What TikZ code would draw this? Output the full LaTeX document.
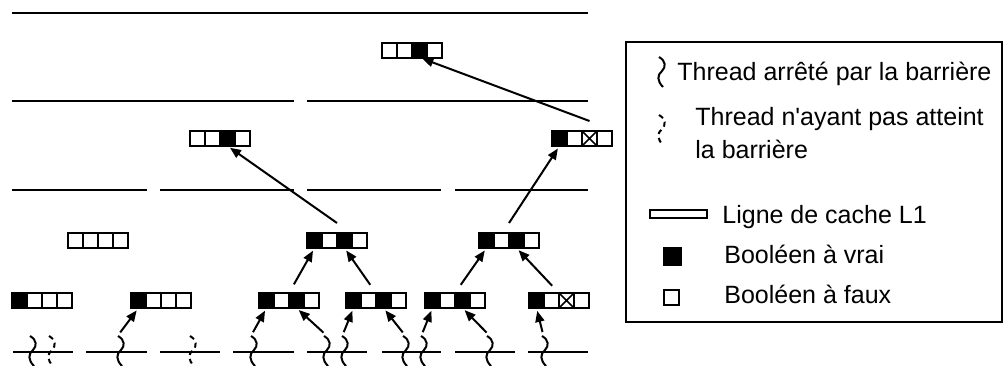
\documentclass[tikz,border=0pt]{standalone}
\usepackage{fontspec}
\setmainfont{Liberation Sans}[Ligatures=TeXOff]
\usetikzlibrary{positioning,arrows.meta}

\tikzset{
  cell/.style={draw, line width=1pt, minimum size=7.5pt, inner sep=0pt, outer sep=0pt},
  faux/.style={cell},
  vrai/.style={cell, fill=black},
  croix/.style={cell, path picture={\draw[line width=0.75pt] (path picture bounding box.south west) -- (path picture bounding box.north east) (path picture bounding box.north west) -- (path picture bounding box.south east);}},
  ligne/.style={line width=1.2pt},
  fil/.style={line width=1pt},
  filpas/.style={fil, dash pattern=on 2.5pt off 2pt},
  arc/.style={-{Triangle[length=5.5pt,width=4.5pt]}, line width=1pt, shorten >=1.5pt},
  lab/.style={inner sep=0pt, anchor=base west, font=\fontsize{12.5pt}{16pt}\selectfont},
}
\newcommand{\cachebox}[7]{%
  \node[#4] (#1-1) at (#2,#3) {};
  \node[#5, right=0pt of #1-1] (#1-2) {};
  \node[#6, right=0pt of #1-2] (#1-3) {};
  \node[#7, right=0pt of #1-3] (#1-4) {};
}
\newcommand{\thread}[4]{%
  \draw[#4] (#2-3,#3) .. controls (#2+4,#3+4) and (#2+4,#3+10) .. (#2,#3+14)
    .. controls (#2-5,#3+18) and (#2-5,#3+24) .. (#2+1,#3+30);
  \coordinate (#1) at (#2-2,#3-2);
}

\begin{document}
\begin{tikzpicture}[x=0.5pt, y=-0.5pt]
  \useasboundingbox (0,0) rectangle (1006,365);
  % Cache lines
  \draw[ligne] (12,13) -- (588,13);
  \draw[ligne] (12,101) -- (294,101) (307,101) -- (588,101);
  \draw[ligne] (12,190) -- (147,190) (160,190) -- (294,190) (307,190) -- (441,190) (455,190) -- (588,190);
  \draw[ligne] (13,352) -- (73,352) (86,352) -- (147,352) (160,352) -- (220,352) (233,352) -- (294,352)
    (307,352) -- (367,352) (382,352) -- (441,352) (455,352) -- (515,352) (528,352) -- (588,352);

  % Define nodes
  \cachebox{h4}{389.5}{50}{faux}{faux}{vrai}{faux}
  \cachebox{h3a}{197.5}{138.5}{faux}{faux}{vrai}{faux}
  \cachebox{h3b}{559.5}{138.5}{vrai}{faux}{croix}{faux}
  \cachebox{h2a}{75.5}{240.5}{faux}{faux}{faux}{faux}
  \cachebox{h2b}{314.5}{240.5}{vrai}{faux}{vrai}{faux}
  \cachebox{h2c}{486.5}{240.5}{vrai}{faux}{vrai}{faux}
  \cachebox{h1a}{19.5}{300.5}{vrai}{faux}{faux}{faux}
  \cachebox{h1b}{138.5}{300.5}{vrai}{faux}{faux}{faux}
  \cachebox{h1c}{266.5}{300.5}{vrai}{faux}{vrai}{faux}
  \cachebox{h1d}{353.5}{300.5}{vrai}{faux}{vrai}{faux}
  \cachebox{h1e}{432.5}{300.5}{vrai}{faux}{vrai}{faux}
  \cachebox{h1f}{536.5}{300.5}{vrai}{faux}{croix}{faux}

  % Threads
  \thread{t1}{33}{336}{fil}
  \thread{t2}{52}{336}{filpas}
  \thread{t3}{121}{336}{fil}
  \thread{t4}{193}{336}{filpas}
  \thread{t5}{254}{336}{fil}
  \thread{t6}{327}{336}{fil}
  \thread{t7}{345}{336}{fil}
  \thread{t8}{406}{336}{fil}
  \thread{t9}{424}{336}{fil}
  \thread{t10}{490}{336}{fil}
  \thread{t11}{545}{336}{fil}

  % Connect the nodes
  \draw[arc, shorten <=1pt] (t3) -- (h1b-1.south);
  \draw[arc, shorten <=1pt] (t5) -- (h1c-1.south);
  \draw[arc, shorten <=1pt] (t6) -- (h1c-3.south);
  \draw[arc, shorten <=1pt] (t7) -- (h1d-1.south);
  \draw[arc, shorten <=1pt] (t8) -- (h1d-3.south);
  \draw[arc, shorten <=1pt] (t9) -- (h1e-1.south);
  \draw[arc, shorten <=1pt] (t10) -- (h1e-3.south);
  \draw[arc, shorten <=1pt] (t11) -- (h1f-1.south);
  \draw[arc, shorten <=5pt] (h1c-2.north east) -- (h2b-1.south);
  \draw[arc, shorten <=5pt] (h1d-2.north east) -- (h2b-3.south);
  \draw[arc, shorten <=5pt] (h1e-2.north east) -- (h2c-1.south);
  \draw[arc, shorten <=5pt] (h1f-2.north east) -- (h2c-3.south);
  \draw[arc] ([yshift=5pt]h2b-2.north east) -- (h3a-3.south);
  \draw[arc] ([yshift=5pt]h2c-2.north east) -- (h3b-1.south);
  \draw[arc] ([yshift=5pt]h3b-3.north) -- (h4-3.south);

  % Legend
  \draw[line width=1pt] (626,42) rectangle (1002,322);
  \thread{lg1}{662}{57}{fil}
  \thread{lg2}{662}{115}{filpas}
  \node[draw, line width=1pt, minimum width=28.5pt, minimum height=4pt, inner sep=0pt] (lgligne) at (678.5,214) {};
  \node[vrai, minimum size=8.5pt] (lgvrai) at (672,256) {};
  \node[faux] (lgfaux) at (671.5,297) {};
  \node[lab] (lt1) at (677,80) {Thread arrêté par la barrière};
  \node[lab] (lt2) at (695,125) {Thread n'ayant pas atteint};
  \node[lab] (lt3) at (695,158) {la barrière};
  \node[lab] (lt4) at (722,223) {Ligne de cache L1};
  \node[lab] (lt5) at (724,263) {Booléen à vrai};
  \node[lab] (lt6) at (724,303) {Booléen à faux};
\end{tikzpicture}
\end{document}
